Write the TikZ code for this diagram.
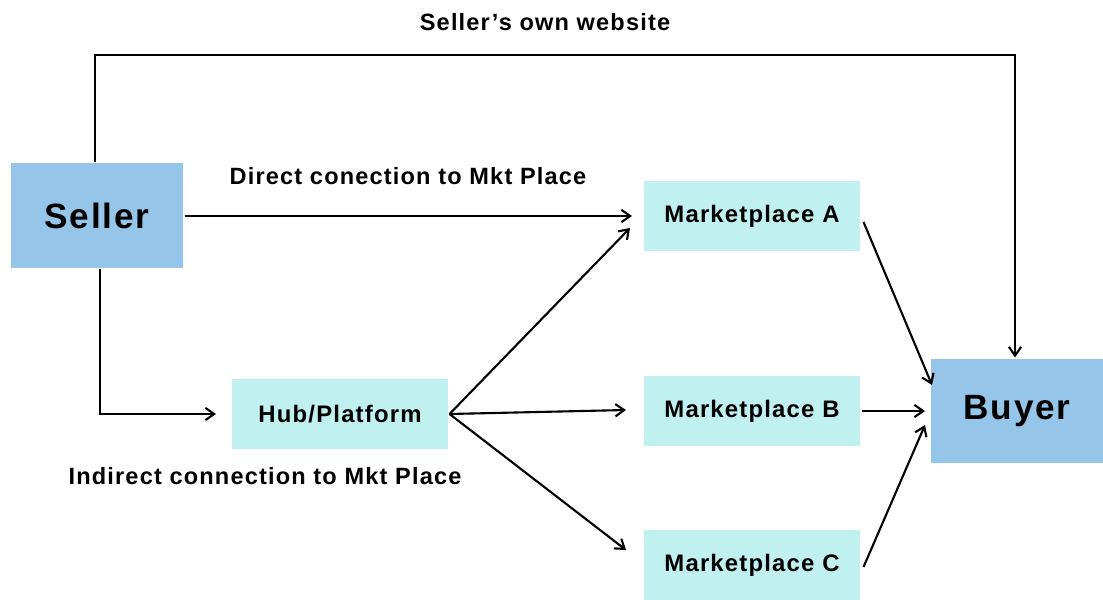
\documentclass[tikz,border=0pt]{standalone}
\usepackage{fontspec}
\setmainfont{Liberation Sans}[LetterSpace=5]
\usepackage{tikz}
\usetikzlibrary{positioning, arrows.meta, calc}
\definecolor{partyBlue}{HTML}{95C5E8}
\definecolor{mktCyan}{HTML}{C0F0EF}

\begin{document}
\begin{tikzpicture}[
    x=0.02cm, y=-0.02cm,
    line width=1.2pt,
    partyNode/.style={rectangle, fill=partyBlue, minimum width=3.46cm, minimum height=2.1cm, font=\bfseries\fontsize{20}{24}\selectfont, align=center},
    mktNode/.style={rectangle, fill=mktCyan, minimum width=4.34cm, minimum height=1.4cm, font=\bfseries\fontsize{13.6}{16}\selectfont, align=center},
    flowLabel/.style={font=\bfseries\fontsize{13.4}{16}\selectfont},
    flow/.style={-{Straight Barb[length=5pt, width=7pt]}}
]
    \useasboundingbox (0,0) rectangle (1103,599);

    % Parties
    \node[partyNode] (seller) at (97, 215.5) {Seller};
    \node[partyNode] (buyer) at (1017, 411) {Buyer};

    % Hub and marketplaces
    \node[mktNode] (hub) at (340, 414) {Hub/Platform};
    \node[mktNode] (mktA) at (752, 216) {Marketplace A};
    \node[mktNode] (mktB) at (752, 411) {Marketplace B};
    \node[mktNode] (mktC) at (752, 565) {Marketplace C};

    % Free ends of the arrows
    \coordinate (topL) at (95, 55);
    \coordinate (topR) at (1015, 55);
    \coordinate (corner) at (100, 414);
    \coordinate (hubIn) at (216, 414);
    \coordinate (mktAin) at (632, 216);
    \coordinate (mktAhub) at (630, 228);
    \coordinate (mktBin) at (626, 410);
    \coordinate (mktCin) at (626, 550);
    \coordinate (buyerA) at (932, 385);
    \coordinate (buyerB) at (925, 411);
    \coordinate (buyerC) at (925, 425);

    % Seller's own website
    \draw[flow] (seller.north -| topL) -- (topL) -- (topR) -- (buyer.north -| topR);
    \node[flowLabel] (ownLbl) at (545, 22) {Seller’s own website};

    % Direct connection
    \draw[flow] (seller.east |- mktAin) -- (mktAin);
    \node[flowLabel] (directLbl) at (408, 176) {Direct conection to Mkt Place};

    % Indirect connection
    \draw[flow] (seller.south -| corner) -- (corner) -- (hubIn);
    \node[flowLabel] (indirectLbl) at (265, 476) {Indirect connection to Mkt Place};
    \draw[flow] (hub.east) -- (mktAhub);
    \draw[flow] (hub.east) -- (mktBin);
    \draw[flow] (hub.east) -- (mktCin);

    % Marketplaces to buyer
    \draw[flow] ($(mktA.east)+(2,6)$) -- (buyerA);
    \draw[flow] (mktB.east) -- (buyerB);
    \draw[flow] ($(mktC.east)+(2,2)$) -- (buyerC);

\end{tikzpicture}
\end{document}
